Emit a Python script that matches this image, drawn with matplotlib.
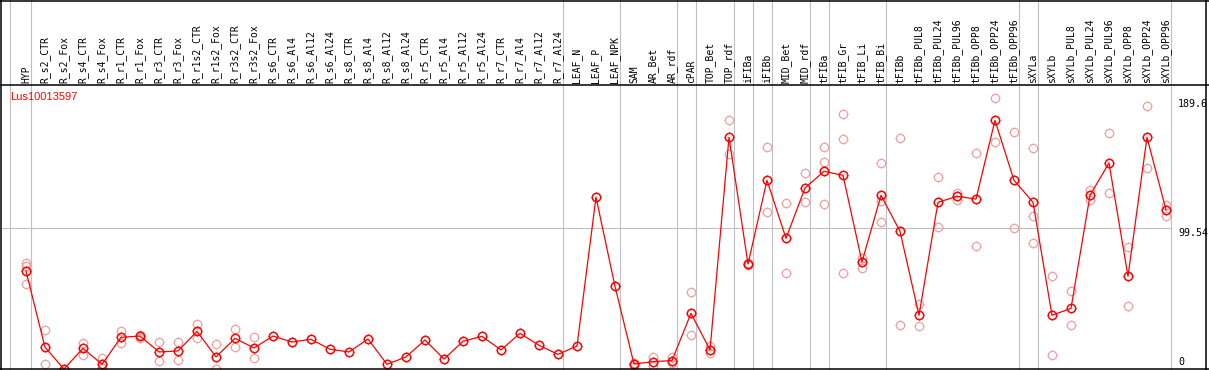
import matplotlib
matplotlib.use("Agg")
import matplotlib.pyplot as plt
from matplotlib.path import Path
from matplotlib.lines import Line2D

# ---------------- data ----------------
labels = ["HYP", "R_s2_CTR", "R_s2_Fox", "R_s4_CTR", "R_s4_Fox", "R_r1_CTR", "R_r1_Fox",
          "R_r3_CTR", "R_r3_Fox", "R_r1s2_CTR", "R_r1s2_Fox", "R_r3s2_CTR", "R_r3s2_Fox",
          "R_s6_CTR", "R_s6_Al4", "R_s6_Al12", "R_s6_Al24", "R_s8_CTR", "R_s8_Al4",
          "R_s8_Al12", "R_s8_Al24", "R_r5_CTR", "R_r5_Al4", "R_r5_Al12", "R_r5_Al24",
          "R_r7_CTR", "R_r7_Al4", "R_r7_Al12", "R_r7_Al24", "LEAF_N", "LEAF_P", "LEAF_NPK",
          "SAM", "AR_Bet", "AR_rdf", "cPAR", "TOP_Bet", "TOP_rdf", "iFIBa", "iFIBb",
          "MID_Bet", "MID_rdf", "tFIBa", "tFIB_Gr", "tFIB_Li", "tFIB_Bi", "tFIBb",
          "tFIBb_PUL8", "tFIBb_PUL24", "tFIBb_PUL96", "tFIBb_OPP8", "tFIBb_OPP24",
          "tFIBb_OPP96", "sXYLa", "sXYLb", "sXYLb_PUL8", "sXYLb_PUL24", "sXYLb_PUL96",
          "sXYLb_OPP8", "sXYLb_OPP24", "sXYLb_OPP96"]

mean_values = [69.0, 15.3, 0.0, 14.6, 3.3, 22.3, 23.2, 12.0, 12.7, 26.5, 8.5, 21.6, 14.8,
               23.2, 19.0, 20.9, 13.9, 12.0, 21.1, 3.3, 8.5, 20.4, 7.0, 19.5, 23.0,
               13.4, 25.1, 16.7, 10.3, 16.2, 121.0, 58.2,
               3.5, 5.2, 5.9, 39.2, 13.4, 163.2, 73.9, 132.9,
               92.0, 127.5, 139.2, 136.4, 75.4, 122.3, 97.0,
               37.8, 117.4, 121.6, 119.7, 175.1, 132.9,
               117.4, 37.8, 42.7, 122.3, 145.1, 65.3, 163.2, 112.0]

replicate_values = [
    [74.4, 72.5, 59.6], [27.5, 3.3], [], [18.5, 9.9], [7.5, 0.5], [26.8, 18.1], [22.0, 24.2],
    [18.8, 5.6], [18.8, 6.3], [31.7, 21.6], [17.4, 0.0], [28.2, 15.3], [22.5, 7.7],
    [], [], [], [], [], [], [], [], [], [], [], [], [], [], [], [], [], [], [],
    [2.1, 4.5], [8.7, 2.1], [8.2, 4.5], [54.0, 23.7], [16.2, 11.0], [175.1, 151.2],
    [74.9, 73.0], [156.1, 110.3],
    [116.7, 67.4], [137.8, 117.4], [156.1, 145.6, 116.0], [179.6, 161.8, 67.4],
    [78.4, 70.9], [144.9, 118.5, 103.3], [162.5, 30.8],
    [45.5, 30.0], [135.0, 100.0], [124.2, 119.2], [151.9, 86.6], [190.6, 159.6],
    [166.7, 99.1],
    [155.4, 107.7, 88.5], [65.5, 9.6], [54.9, 30.8], [126.3, 118.8], [166.0, 123.9],
    [85.9, 44.4], [185.2, 141.3], [115.3, 107.7]]

gene_name = "Lus10013597"
ref_line_value = 99.54
max_value = 189.6
max_label = "189.6"
mid_label = "99.54"
min_label = "0"
group_boundaries = [-0.842, 0.25, 28.25, 31.25, 34.25, 35.25, 37.25, 38.25, 39.25,
                    41.25, 42.25, 45.25, 52.25, 53.25, 60.25]

# ---------------- layout ----------------
W, H = 1209, 370
fig = plt.figure(figsize=(W / 100, H / 100), dpi=100)

x0_px, dx_px = 26.0, 19.0          # pixel of first column, column spacing
px_per_unit = 1.42
top_px, bot_px = 85.0, 369.0
left_px, right_px = 2.0, 1170.75

def xdata(p):
    return (p - x0_px) / dx_px

ax = fig.add_axes([left_px / W, (H - bot_px) / H, (right_px - left_px) / W, (bot_px - top_px) / H])
ax.set_xlim(xdata(left_px), xdata(right_px))
ax.set_ylim(0, (bot_px - top_px) / px_per_unit)
ax.axis("off")

gray = "#c0c0c0"
red = "#ff0000"
pink = "#f0a0a0"

# gray reference line and group separators
ax.axhline(ref_line_value, color=gray, lw=0.8, zorder=1)
for b in group_boundaries:
    ax.axvline(b, ymin=0, ymax=(bot_px - 0) / (bot_px - top_px), color=gray, lw=0.8,
               clip_on=False, zorder=1)

# tick marker path (4 short ticks around circle)
tick_path = Path([(0, 0.8), (0, 1), (0, -0.8), (0, -1), (0.8, 0), (1, 0), (-0.8, 0), (-1, 0)],
                 [Path.MOVETO, Path.LINETO] * 4)

xs = list(range(len(labels)))

circ_ms = 6.0
tick_ms = 7.6

# replicates
for i, reps in enumerate(replicate_values):
    if reps:
        ax.plot([i] * len(reps), reps, linestyle="none", marker="o", ms=circ_ms,
                mfc="none", mec=pink, mew=0.9, zorder=2)
        ax.plot([i] * len(reps), reps, linestyle="none", marker=tick_path, ms=tick_ms,
                mfc="none", mec=pink, mew=0.7, zorder=2)

# mean line
ax.plot(xs, mean_values, color=red, lw=0.9, zorder=3)
ax.plot(xs, mean_values, linestyle="none", marker="o", ms=circ_ms, mfc="none",
        mec=red, mew=1.1, zorder=4)
ax.plot(xs, mean_values, linestyle="none", marker=tick_path, ms=tick_ms,
        mfc="none", mec=red, mew=0.8, zorder=4)

# header labels
for i, lab in enumerate(labels):
    ax.annotate(lab, xy=(i, 1), xycoords=("data", "axes fraction"),
                xytext=(0, 1.2), textcoords="offset points",
                rotation=90, ha="center", va="bottom",
                family="DejaVu Sans Mono", fontsize=7.0, color="black",
                annotation_clip=False)

# right value labels
ax.annotate(max_label, xy=(1, max_value), xycoords=("axes fraction", "data"),
            xytext=(5.3, 0.5), textcoords="offset points", ha="left", va="top",
            family="DejaVu Sans Mono", fontsize=7.2, annotation_clip=False)
ax.annotate(mid_label, xy=(1, ref_line_value), xycoords=("axes fraction", "data"),
            xytext=(5.3, -0.5), textcoords="offset points", ha="left", va="top",
            family="DejaVu Sans Mono", fontsize=7.2, annotation_clip=False)
ax.annotate(min_label, xy=(1, 0), xycoords=("axes fraction", "data"),
            xytext=(5.3, 1.5), textcoords="offset points", ha="left", va="bottom",
            family="DejaVu Sans Mono", fontsize=7.2, annotation_clip=False)

# gene name
fig.text(10 / W, 1 - 97.5 / H, gene_name, color=red, family="Liberation Sans",
         fontsize=8, ha="left", va="center")

# black frame lines
def hline(ypx, x1=0, x2=W):
    fig.add_artist(Line2D([x1 / W, x2 / W], [1 - ypx / H, 1 - ypx / H],
                          color="black", lw=1.1, transform=fig.transFigure))

def vline(xpx, y1=0, y2=H):
    fig.add_artist(Line2D([xpx / W, xpx / W], [1 - y1 / H, 1 - y2 / H],
                          color="black", lw=1.1, transform=fig.transFigure))

hline(0.5)
hline(85)
hline(369.3)
vline(1.2)
vline(1206)

fig.savefig("out.png", dpi=100, facecolor="white")
